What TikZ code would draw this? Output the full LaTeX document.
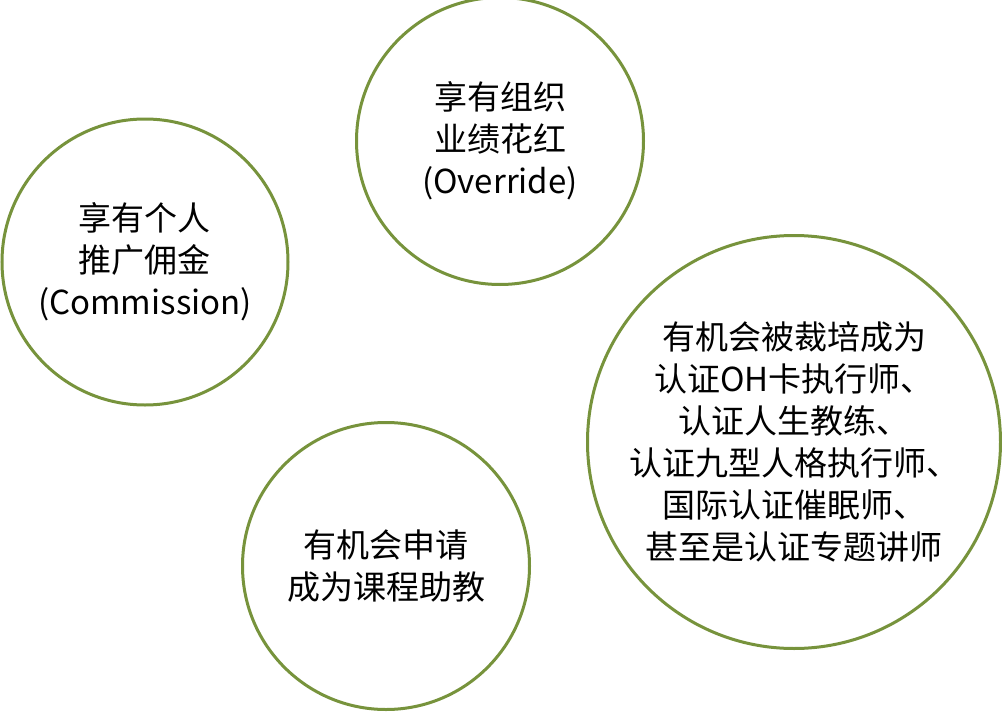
\documentclass[tikz,border=0pt]{standalone}
\usepackage{fontspec}
\usepackage{xcolor}
\usepackage{tikz}
\usetikzlibrary{positioning}
\newfontfamily\cjk{Noto Sans CJK SC}
\definecolor{olivegreen}{RGB}{119,147,60}

\begin{document}
\begin{tikzpicture}[
        x=0.5pt, y=-0.5pt,
        % Styles
        bubble/.style={
            circle, draw=olivegreen, line width=1.5pt,
            fill=white, inner sep=0pt,
            align=center, text=black,
            font=\cjk\fontsize{16.5}{21}\selectfont
        }
    ]

        \useasboundingbox (0,0) rectangle (1002,712);

        % Benefits
        \node[bubble, minimum size=143pt] (commission) at (145,262) {享有个人\\推广佣金\\(Commission)};
        \node[bubble, minimum size=143.5pt] (override) at (500,141) {享有组织\\业绩花红\\(Override)};
        \node[bubble, minimum size=143.5pt] (assistant) at (386,566) {有机会申请\\成为课程助教};
        \node[bubble, minimum size=206.5pt] (trainer) at (794,442) {有机会被裁培成为\\认证OH卡执行师、\\认证人生教练、\\认证九型人格执行师、\\国际认证催眠师、\\甚至是认证专题讲师};

    \end{tikzpicture}
\end{document}
